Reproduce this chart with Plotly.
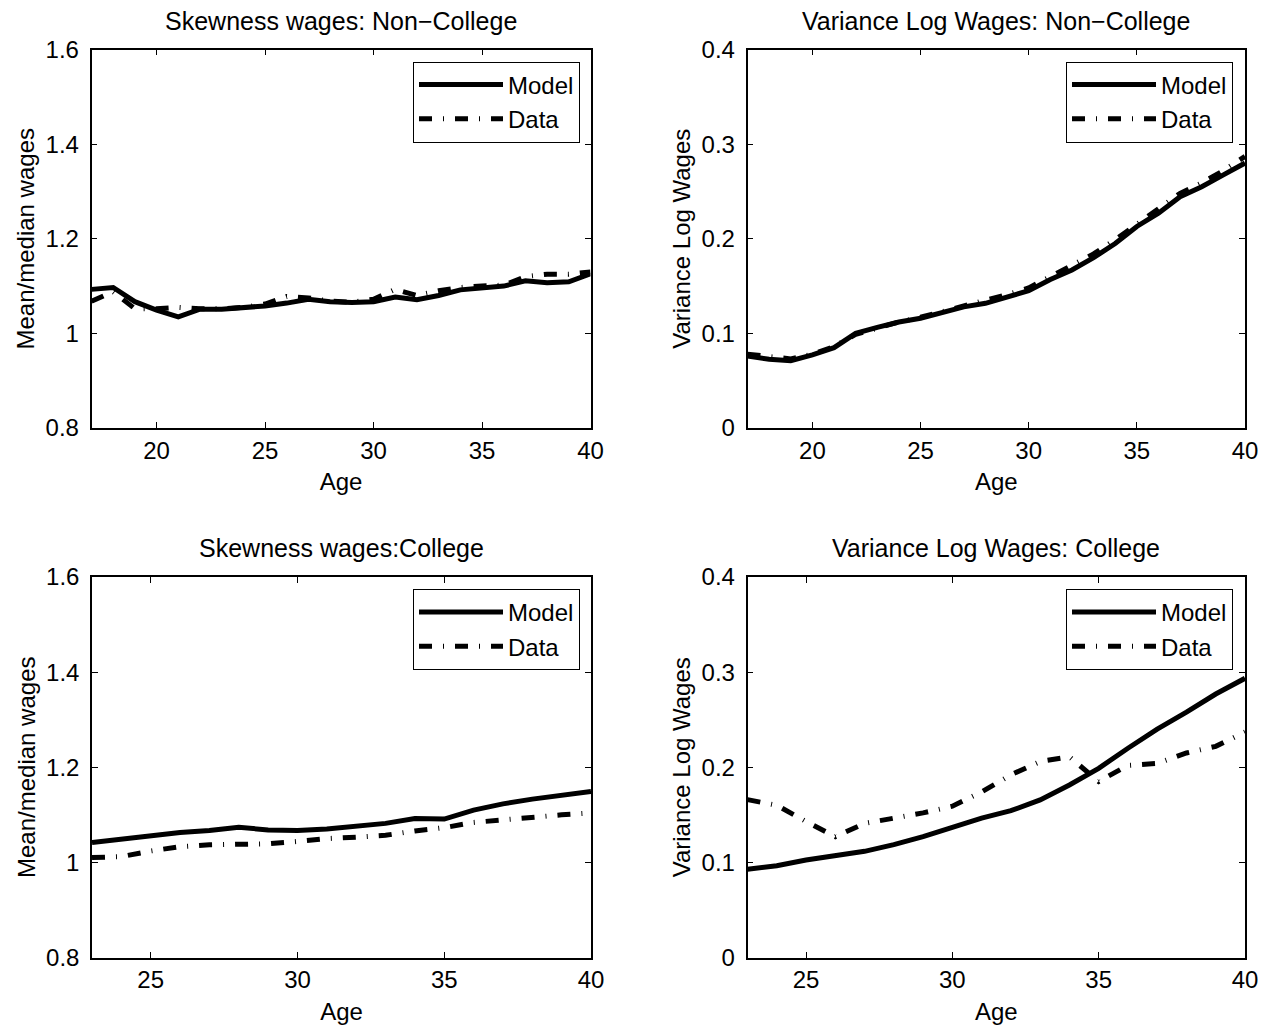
import plotly.graph_objects as go

# ---------------- data ----------------
ages_nc = list(range(17, 41))
skew_nc_model = [1.093, 1.097, 1.067, 1.049, 1.035, 1.051, 1.051, 1.054, 1.058, 1.064, 1.072, 1.067,
                 1.065, 1.067, 1.077, 1.071, 1.080, 1.092, 1.097, 1.100, 1.111, 1.107, 1.109, 1.126]
skew_nc_data = [1.068, 1.088, 1.052, 1.052, 1.055, 1.052, 1.052, 1.055, 1.062, 1.078, 1.075, 1.068,
                1.066, 1.072, 1.093, 1.080, 1.090, 1.097, 1.100, 1.102, 1.120, 1.125, 1.125, 1.130]
var_nc_model = [0.076, 0.0726, 0.0712, 0.0772, 0.0849, 0.100, 0.1064, 0.112, 0.116, 0.1226, 0.128, 0.1318,
                0.1388, 0.1451, 0.157, 0.167, 0.180, 0.195, 0.213, 0.227, 0.2445, 0.255, 0.2675, 0.280]
var_nc_data = [0.078, 0.075, 0.073, 0.078, 0.086, 0.099, 0.106, 0.112, 0.117, 0.123, 0.128, 0.134,
               0.141, 0.148, 0.160, 0.171, 0.184, 0.199, 0.215, 0.231, 0.248, 0.259, 0.272, 0.287]

ages_c = list(range(23, 41))
skew_c_model = [1.042, 1.049, 1.055, 1.063, 1.067, 1.074, 1.068, 1.067, 1.070, 1.076, 1.082, 1.092,
                1.091, 1.110, 1.123, 1.133, 1.142, 1.149]
skew_c_data = [1.010, 1.012, 1.024, 1.033, 1.037, 1.038, 1.039, 1.044, 1.050, 1.053, 1.057, 1.066,
               1.073, 1.084, 1.090, 1.096, 1.100, 1.104]
var_c_model = [0.0927, 0.0965, 0.1025, 0.1074, 0.1116, 0.1186, 0.127, 0.1369, 0.1466, 0.1543, 0.1656,
               0.1813, 0.1989, 0.220, 0.240, 0.258, 0.277, 0.2935]
var_c_data = [0.166, 0.160, 0.143, 0.127, 0.141, 0.146, 0.152, 0.159, 0.174, 0.192, 0.206, 0.211,
              0.185, 0.202, 0.204, 0.215, 0.222, 0.237]

titles = ["Skewness wages: Non\u2212College", "Variance Log Wages: Non\u2212College",
          "Skewness wages:College", "Variance Log Wages: College"]
ylabels = ["Mean/median wages", "Variance Log Wages", "Mean/median wages", "Variance Log Wages"]
xlabel = "Age"
series_names = ["Model", "Data"]

skew_ticks = [0.8, 1.0, 1.2, 1.4, 1.6]
var_ticks = [0, 0.1, 0.2, 0.3, 0.4]

# ---------------- layout geometry ----------------
W, H = 1271, 1031
FONT = "Liberation Sans, Arial, Helvetica, sans-serif"

def px_x(a, b):
    return [a / W, b / W]

def px_y(top, bottom):
    return [1 - bottom / H, 1 - top / H]

dom = [
    (px_x(91.5, 590.5), px_y(49.5, 428)),
    (px_x(747.5, 1245), px_y(49.5, 428)),
    (px_x(92, 591), px_y(577, 957.5)),
    (px_x(747.5, 1245), px_y(577, 957.5)),
]

panels = [
    (ages_nc, skew_nc_model, skew_nc_data, [17, 40], [0.8, 1.6], skew_ticks, [20, 25, 30, 35, 40]),
    (ages_nc, var_nc_model, var_nc_data, [17, 40], [0, 0.4], var_ticks, [20, 25, 30, 35, 40]),
    (ages_c, skew_c_model, skew_c_data, [23, 40], [0.8, 1.6], skew_ticks, [25, 30, 35, 40]),
    (ages_c, var_c_model, var_c_data, [23, 40], [0, 0.4], var_ticks, [25, 30, 35, 40]),
]

fig = go.Figure()
layout = dict(
    width=W, height=H,
    margin=dict(l=0, r=0, t=0, b=0),
    paper_bgcolor="white", plot_bgcolor="white",
    font=dict(family=FONT, size=24, color="black"),
    annotations=[],
)

legend_pos = [(580, 61.5), (1233, 61.5), (580, 589), (1233, 589)]

for i, (xs, ym, yd, xr, yr, yt, xt) in enumerate(panels):
    n = i + 1
    xa = "x" if n == 1 else f"x{n}"
    ya = "y" if n == 1 else f"y{n}"
    lg = "legend" if n == 1 else f"legend{n}"
    fig.add_trace(go.Scatter(x=xs, y=ym, mode="lines", name=series_names[0],
                             line=dict(color="black", width=5),
                             xaxis=xa, yaxis=ya, legend=lg))
    fig.add_trace(go.Scatter(x=xs, y=yd, mode="lines", name=series_names[1],
                             line=dict(color="black", width=5, dash="13px,11px,1px,11px"),
                             xaxis=xa, yaxis=ya, legend=lg))
    axcommon = dict(showline=True, linecolor="black", linewidth=1.5, mirror="ticks",
                    ticks="inside", ticklen=6, tickcolor="black", tickwidth=1,
                    showgrid=False, zeroline=False, automargin=False,
                    tickfont=dict(family=FONT, size=24, color="black"))
    xkey = "xaxis" if n == 1 else f"xaxis{n}"
    ykey = "yaxis" if n == 1 else f"yaxis{n}"
    layout[xkey] = dict(axcommon, domain=dom[i][0], range=xr, tickvals=xt,
                        anchor=ya,
                        title=dict(text=xlabel, font=dict(family=FONT, size=24), standoff=11))
    layout[ykey] = dict(axcommon, domain=dom[i][1], range=yr, tickvals=yt,
                        ticktext=[("%g" % v) for v in yt], anchor=xa, ticklabelstandoff=6,
                        title=dict(text=ylabels[i], font=dict(family=FONT, size=24), standoff=4))
    xc = (dom[i][0][0] + dom[i][0][1]) / 2
    layout["annotations"].append(dict(text=titles[i], x=xc, y=dom[i][1][1], xref="paper", yref="paper",
                                      xanchor="center", yanchor="bottom", yshift=13, showarrow=False,
                                      font=dict(family=FONT, size=25, color="black")))
    lx, ly = legend_pos[i]
    layout[lg] = dict(x=lx / W, y=1 - ly / H, xanchor="right", yanchor="top",
                      xref="paper", yref="paper",
                      bgcolor="white", bordercolor="black", borderwidth=1,
                      font=dict(family=FONT, size=24, color="black"),
                      itemwidth=84, tracegroupgap=0)

fig.update_layout(**layout)
fig.write_html("out.html", config={"displayModeBar": False},
               post_script="document.body.style.margin='0';")
